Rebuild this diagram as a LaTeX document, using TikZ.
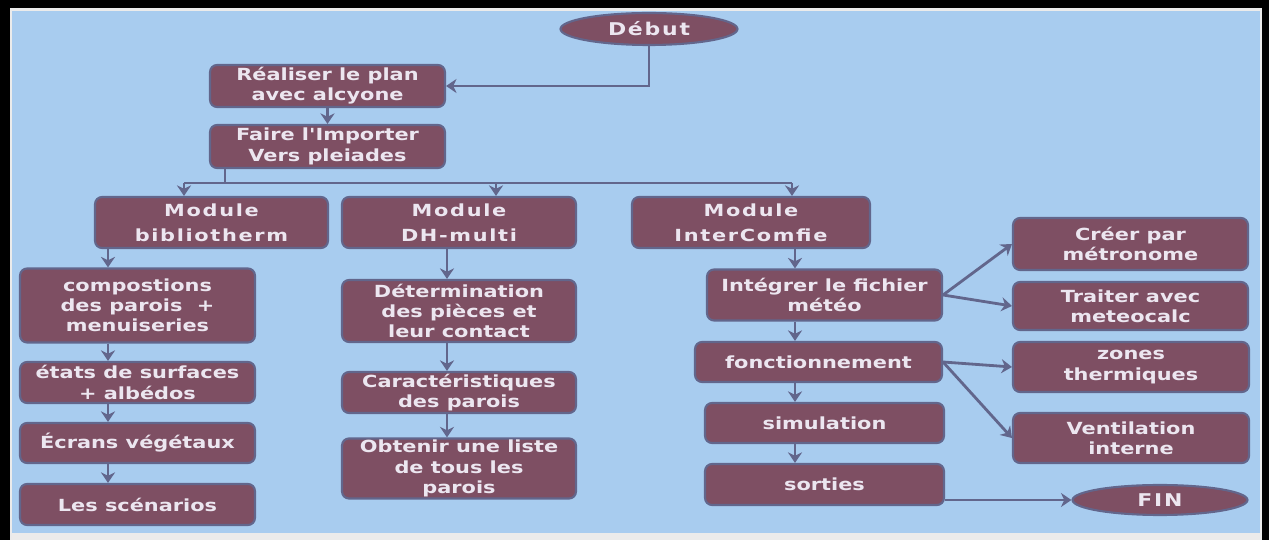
\documentclass[tikz,border=0pt]{standalone}
\usepackage{fontspec}
\newfontfamily\boxfont{DejaVu Sans}[FakeStretch=1.25]
\newfontfamily\modfont{DejaVu Sans}[FakeStretch=1.25,LetterSpace=10]
\definecolor{skyback}{RGB}{168,204,239}
\definecolor{mauve}{RGB}{126,79,99}
\definecolor{slate}{RGB}{98,102,140}
\definecolor{paletext}{RGB}{236,230,240}
\usetikzlibrary{arrows.meta}
\usetikzlibrary{shapes.geometric}
\tikzset{
  box/.style={draw=slate, line width=1.2pt, fill=mauve, rounded corners=4pt, text=paletext,
    align=center, inner sep=1pt, font=\boxfont\bfseries\fontsize{9.5}{11.5}\selectfont},
  modbox/.style={box, font=\modfont\bfseries\fontsize{9.5}{14}\selectfont},
  oval/.style={ellipse, draw=slate, line width=1.2pt, fill=mauve, text=paletext, inner sep=0pt,
    font=\modfont\bfseries\fontsize{10}{12}\selectfont},
  wire/.style={draw=slate, line width=1.6pt},
  arr/.style={wire, -{Stealth[length=6pt,width=8pt]}},
}

\begin{document}
\begin{tikzpicture}[x=0.02cm, y=-0.02cm]
  \useasboundingbox (0,0) rectangle (1269,540);
  \fill [black] (0,0) rectangle (1269,540);
  \fill [black!8] (10,8) rectangle (1262,540);
  \fill [skyback] (12,11) rectangle (1260,533);

  \node [oval, minimum width=3.54cm, minimum height=0.64cm] (debut) at (649,29) {Début};
  \node [box, minimum width=4.7cm, minimum height=0.84cm] (plan) at (327.5,86) {Réaliser le plan\\avec alcyone};
  \node [box, minimum width=4.7cm, minimum height=0.86cm] (import) at (327.5,146.5) {Faire l'Importer\\Vers pleiades};

  \node [modbox, minimum width=4.66cm, minimum height=1.02cm] (biblio) at (211.5,222.5) {Module\\bibliotherm};
  \node [modbox, minimum width=4.68cm, minimum height=1.02cm] (dhmulti) at (459,222.5) {Module\\DH-multi};
  \node [modbox, minimum width=4.76cm, minimum height=1.02cm] (intercomfie) at (751,222.5) {Module\\InterComfie};

  % colonne bibliotherm
  \node [box, minimum width=4.7cm, minimum height=1.48cm] (compo) at (137.5,305.5) {compostions\\des parois~~+\\menuiseries};
  \node [box, minimum width=4.7cm, minimum height=0.82cm] (etats) at (137.5,382.5) {états de surfaces\\+ albédos};
  \node [box, minimum width=4.7cm, minimum height=0.80cm] (ecrans) at (137.5,443) {Écrans végétaux};
  \node [box, minimum width=4.7cm, minimum height=0.82cm] (scenar) at (137.5,504.5) {Les scénarios};

  % colonne DH-multi
  \node [box, minimum width=4.68cm, minimum height=1.24cm] (determ) at (459,311) {Détermination\\des pièces et\\leur contact};
  \node [box, minimum width=4.68cm, minimum height=0.82cm] (carac) at (459,392.5) {Caractéristiques\\des parois};
  \node [box, minimum width=4.68cm, minimum height=1.06cm] (liste) at (459,468.5) {Obtenir une liste\\de tous les\\parois};

  % colonne InterComfie
  \node [box, minimum width=4.7cm, minimum height=1.02cm] (meteo) at (824.5,295) {Intégrer le fichier\\météo};
  \node [box, minimum width=4.94cm, minimum height=0.80cm] (fonct) at (818.5,362) {fonctionnement};
  \node [box, minimum width=4.78cm, minimum height=0.80cm] (simul) at (824.5,423) {simulation};
  \node [box, minimum width=4.78cm, minimum height=0.82cm] (sorties) at (824.5,484.5) {sorties};

  \node [box, minimum width=4.7cm, minimum height=1.04cm] (metronome) at (1130.5,244) {Créer par\\métronome};
  \node [box, minimum width=4.7cm, minimum height=0.96cm] (meteocalc) at (1130.5,306) {Traiter avec\\meteocalc};
  \node [box, minimum width=4.72cm, minimum height=1.0cm] (zones) at (1131,367) {zones\\thermiques};
  \node [box, minimum width=4.72cm, minimum height=1.0cm] (ventil) at (1131,438) {Ventilation\\interne};
  \node [oval, minimum width=3.5cm, minimum height=0.6cm] (fin) at (1160,500) {FIN};

  \coordinate (split) at (225,183);
  \coordinate (lcol) at (108,0);
  \coordinate (mcol) at (447,0);
  \coordinate (rcol) at (795,0);

  \draw [arr] (debut.south) |- (plan.east);
  \draw [arr] (plan.south) -- (import.north);
  \draw [wire] (import.south -| split) -- (split);
  \draw [wire] (split -| 184,0) -- (split -| 792,0);
  \draw [arr] (split -| 184,0) -- (biblio.north -| 184,0);
  \draw [arr] (split -| 496,0) -- (dhmulti.north -| 496,0);
  \draw [arr] (split -| 792,0) -- (intercomfie.north -| 792,0);

  \draw [arr] (biblio.south -| lcol) -- (compo.north -| lcol);
  \draw [arr] (compo.south -| lcol) -- (etats.north -| lcol);
  \draw [arr] (etats.south -| lcol) -- (ecrans.north -| lcol);
  \draw [arr] (ecrans.south -| lcol) -- (scenar.north -| lcol);

  \draw [arr] (dhmulti.south -| mcol) -- (determ.north -| mcol);
  \draw [arr] (determ.south -| mcol) -- (carac.north -| mcol);
  \draw [arr] (carac.south -| mcol) -- (liste.north -| mcol);

  \draw [arr] (intercomfie.south -| rcol) -- (meteo.north -| rcol);
  \draw [arr] (meteo.south -| rcol) -- (fonct.north -| rcol);
  \draw [arr] (fonct.south -| rcol) -- (simul.north -| rcol);
  \draw [arr] (simul.south -| rcol) -- (sorties.north -| rcol);

  \draw [arr] (meteo.east) -- (metronome.west);
  \draw [arr] (meteo.east) -- (meteocalc.west);
  \draw [arr] (fonct.east) -- (zones.west);
  \draw [arr] (fonct.east) -- (ventil.west);
  \draw [arr] (sorties.east |- fin.west) -- (fin.west);

\end{tikzpicture}
\end{document}
